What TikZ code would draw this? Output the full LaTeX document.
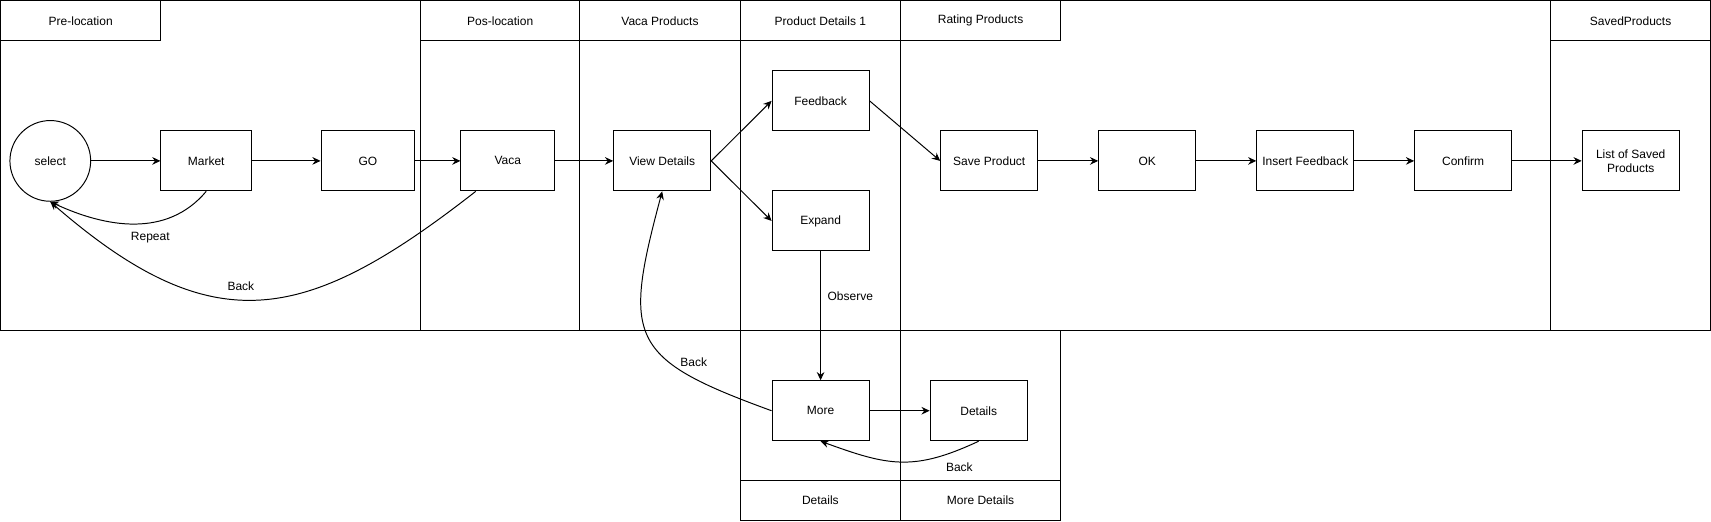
\documentclass[tikz,border=0pt]{standalone}
\usepackage{fontspec}
\setmainfont{Liberation Sans}
\usetikzlibrary{arrows.meta}

\begin{document}
\begin{tikzpicture}[x=1pt,y=1pt,line width=0.9pt,
	font=\fontsize{11}{12.8}\selectfont,
	box/.style={draw,rectangle,minimum width=89pt,minimum height=55pt,inner sep=1pt,align=center},
	lanehead/.style={draw,rectangle,minimum width=#1,minimum height=37pt,anchor=north west,inner sep=0pt,outer sep=0pt},
	lbl/.style={inner sep=1pt},
	>={Stealth[length=7.5pt,width=7pt,inset=2.5pt]}]
		\useasboundingbox (-0.5,0.5) rectangle (1567.9,-477.3);
		%
		\draw (0,0) rectangle (1567.4,-302.4);
		\foreach \x in {385,531,678,825,1421}
			\draw (\x,0) -- (\x,-302.4);
		\draw (678,-302.4) rectangle (971.7,-476.8);
		\draw (825,-302.4) -- (825,-476.8);
		%
		\node[lanehead=147pt] (hpre) at (0,0) {Pre-location};
		\node[lanehead=146pt] (hpos) at (385,0) {Pos-location};
		\node[lanehead=147pt] (hvaca) at (531,0) {Vaca Products};
		\node[lanehead=147pt] (hdet1) at (678,0) {Product Details 1};
		\node[lanehead=146.7pt] (hrate) at (825,0) {Rating Products};
		\node[lanehead=146.4pt] (hsaved) at (1421,0) {SavedProducts};
		\node[lanehead=147pt] (hdet) at (678,-439.8) {Details};
		\node[lanehead=146.7pt] (hmore) at (825,-439.8) {More Details};
		%
		\node[circle,draw,minimum size=74pt,inner sep=0pt] (select) at (45.6,-147) {select};
		\node[box,minimum width=83pt] (market) at (188.5,-147) {Market};
		\node[box,minimum width=86pt] (go) at (336.8,-147) {GO};
		\node[box,minimum width=86pt] (vaca) at (465,-147) {Vaca};
		\node[box] (view) at (606.5,-147) {View Details};
		\node[box] (feedback) at (751.7,-92) {Feedback};
		\node[box] (expand) at (751.7,-202) {Expand};
		\node[box] (more) at (751.7,-376) {More};
		\node[box] (details) at (896.6,-376) {Details};
		\node[box] (save) at (906.3,-147) {Save Product};
		\node[box] (ok) at (1051.1,-147) {OK};
		\node[box] (insert) at (1196,-147) {Insert Feedback};
		\node[box] (confirm) at (1340.7,-147) {Confirm};
		\node[box] (list) at (1494.3,-147) {List of Saved\\Products};
		%
		\path[->]
		(select) edge (market)
		(market) edge (go)
		(go) edge (vaca)
		(vaca) edge (view)
		(view.east) edge (feedback.west)
		(view.east) edge (expand.west)
		(feedback.east) edge (save.west)
		(save) edge (ok)
		(ok) edge (insert)
		(insert) edge (confirm)
		(confirm) edge (list)
		(expand) edge node[lbl,pos=0.35,right=5pt]{Observe} (more)
		(more) edge (details);
		%
		\draw[->] (market.south) .. controls +(-130:56) and +(-25:56) .. (select.south)
			node[lbl,pos=0.4,below=7pt]{Repeat};
		\draw[->] ([xshift=14pt]vaca.south west) .. controls +(-142:198) and +(-41:198) .. (select.south)
			node[lbl,pos=0.55,above=7pt]{Back};
		\draw[->] (more.west) .. controls +(160:140) and +(-105:140) .. (view.south)
			node[lbl,pos=0.25,above=6pt,xshift=5pt]{Back};
		\draw[->] (details.south) .. controls +(-155:66) and +(-20:66) .. (more.south)
			node[lbl,pos=0.15,below=8pt,xshift=7pt]{Back};
\end{tikzpicture}
\end{document}
